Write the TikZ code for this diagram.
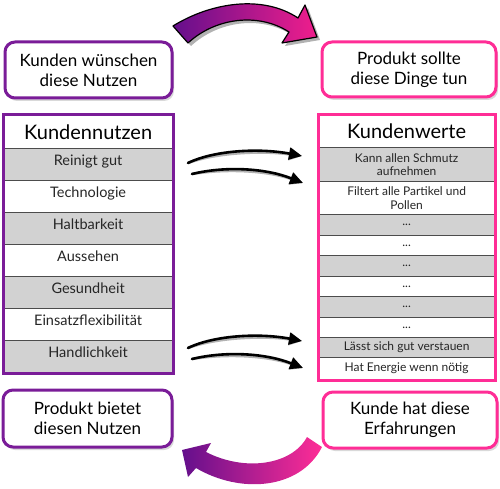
\documentclass[tikz,border=0pt]{standalone}
\usepackage{fontspec}
\setmainfont{Lato}
\usetikzlibrary{arrows.meta,shadows}
\definecolor{purp}{RGB}{122,28,152}
\definecolor{pinkc}{RGB}{255,45,150}
\definecolor{rowgray}{RGB}{210,210,210}
\definecolor{arrpurp}{RGB}{100,15,140}
\definecolor{arrpink}{RGB}{240,30,140}
\begin{document}
\begin{tikzpicture}[x=1pt,y=-1pt,
  bubble/.style={draw, line width=3pt, rounded corners=10pt, fill=white, align=center,
    font=\fontsize{17}{20}\selectfont, inner sep=0pt,
    drop shadow={shadow xshift=2pt, shadow yshift=-3pt, opacity=0.3}},
  hdr/.style={draw=black!70, line width=1.2pt, fill=white, inner sep=0pt, anchor=north west,
    font=\fontsize{20}{22}\selectfont},
  lrow/.style={draw=black!70, line width=1.2pt, inner sep=0pt, anchor=north west,
    minimum width=169pt, minimum height=32pt, font=\fontsize{14.5}{16}\selectfont, text=black!85,
    text height=10pt, text depth=8pt},
  rrow/.style={draw=black!70, line width=1.2pt, inner sep=0pt, anchor=north west, align=center,
    minimum width=176pt, font=\fontsize{12}{13.5}\selectfont, text=black!85},
  g/.style={fill=rowgray}, w/.style={fill=white},
  brush/.style={line width=2.6pt, black, line cap=round, -{Triangle[length=13pt,width=12pt]}},
  brushshadow/.style={line width=2.6pt, black!30, line cap=round, -{Triangle[length=13pt,width=12pt]}}
]
\useasboundingbox (0,0) rectangle (500,489);

% speech boxes
\node[bubble, draw=purp, minimum width=167pt, minimum height=56pt] (tl) at (88.5,70) {Kunden wünschen\\diese Nutzen};
\node[bubble, draw=pinkc, minimum width=174pt, minimum height=55pt] (tr) at (409,69.5) {Produkt sollte\\diese Dinge tun};
\node[bubble, draw=purp, minimum width=169pt, minimum height=57pt] (bl) at (87.5,418.5) {Produkt bietet\\diesen Nutzen};
\node[bubble, draw=pinkc, minimum width=174pt, minimum height=56pt] (br) at (410,420) {Kunde hat diese\\Erfahrungen};

% left table
\node[hdr, minimum width=169pt, minimum height=33pt] (lh) at (3,115) {Kundennutzen};
\node[lrow, g] (l1) at (3,148) {Reinigt gut};
\node[lrow, w] (l2) at (3,180) {Technologie};
\node[lrow, g] (l3) at (3,212) {Haltbarkeit};
\node[lrow, w] (l4) at (3,244) {Aussehen};
\node[lrow, g] (l5) at (3,276) {Gesundheit};
\node[lrow, w] (l6) at (3,308) {Einsatzflexibilität};
\node[lrow, g] (l7) at (3,340) {Handlichkeit};
\draw[purp, line width=3pt] (lh.north west) rectangle (l7.south east);

% right table
\node[hdr, minimum width=176pt, minimum height=32pt] (rh) at (318,115) {Kundenwerte};
\node[rrow, g, minimum height=34pt] (r1) at (318,147) {Kann allen Schmutz\\aufnehmen};
\node[rrow, w, minimum height=33pt] (r2) at (318,181) {Filtert alle Partikel und\\Pollen};
\node[rrow, g, minimum height=20.5pt] (r3) at (318,214) {...};
\node[rrow, w, minimum height=20.5pt] (r4) at (318,234.5) {...};
\node[rrow, g, minimum height=20.5pt] (r5) at (318,255) {...};
\node[rrow, w, minimum height=20.5pt] (r6) at (318,275.5) {...};
\node[rrow, g, minimum height=20.5pt] (r7) at (318,296) {...};
\node[rrow, w, minimum height=20.5pt] (r8) at (318,316.5) {...};
\node[rrow, g, minimum height=20pt] (r9) at (318,337) {Lässt sich gut verstauen};
\node[rrow, w, minimum height=22pt] (r10) at (318,357) {Hat Energie wenn nötig};
\draw[pinkc, line width=3pt] (rh.north west) rectangle (r10.south east);

% arrow end points
\coordinate (a1s) at (188,163); \coordinate (a1e) at (302,156);
\coordinate (a2s) at (192,174); \coordinate (a2e) at (303,183);
\coordinate (a3s) at (188,348); \coordinate (a3e) at (302,341);
\coordinate (a4s) at (192,359); \coordinate (a4e) at (303,368);

\begin{scope}[shift={(1.5,2.5)}]
\draw[brushshadow] (a1s) .. controls (215,150) and (260,148) .. (a1e);
\draw[brushshadow] (a2s) .. controls (225,166) and (265,168) .. (a2e);
\draw[brushshadow] (a3s) .. controls (215,335) and (260,333) .. (a3e);
\draw[brushshadow] (a4s) .. controls (225,351) and (265,353) .. (a4e);
\end{scope}
\draw[brush] (a1s) .. controls (215,150) and (260,148) .. (a1e);
\draw[brush] (a2s) .. controls (225,166) and (265,168) .. (a2e);
\draw[brush] (a3s) .. controls (215,335) and (260,333) .. (a3e);
\draw[brush] (a4s) .. controls (225,351) and (265,353) .. (a4e);

% big top arrow
\fill[black!30, shift={(3,3)}] (173,26) .. controls (210,3) and (262,-6) .. (298,18) -- (305,5) -- (317,37) -- (282,43) -- (289,32) .. controls (258,12) and (215,18) .. (188,43) -- cycle;
\shadedraw[left color=arrpurp, right color=arrpink, draw=black, line width=1.2pt, line join=round]
  (173,26) .. controls (210,3) and (262,-6) .. (298,18) -- (305,5) -- (317,37) -- (282,43) -- (289,32) .. controls (258,12) and (215,18) .. (188,43) -- cycle;

% big bottom arrow
\shade[left color=arrpurp, right color=pinkc]
  (307,437) .. controls (292,465) and (245,472) .. (206,452) -- (211,443) -- (182,450) -- (188,477) -- (196,468) .. controls (240,494) and (300,490) .. (322,447) -- cycle;
\end{tikzpicture}
\end{document}
